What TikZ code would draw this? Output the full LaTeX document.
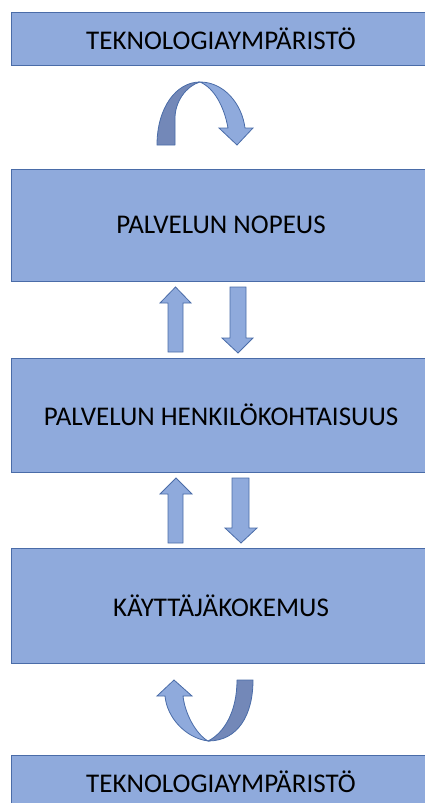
\documentclass[tikz,border=0pt]{standalone}
\usepackage{fontspec}
\setmainfont{Carlito}
\definecolor{boxfill}{HTML}{8FAADC}
\definecolor{boxline}{HTML}{4A6CA8}
\definecolor{darkrib}{HTML}{7388B8}
\tikzset{
  blk/.style={draw=boxline, line width=0.9pt, fill=boxfill, minimum width=420pt, inner sep=0pt, font=\fontsize{27}{32}\selectfont},
  arr/.style={draw=boxline, line width=0.8pt, fill=boxfill, line join=miter},
  arrdark/.style={draw=boxline, line width=0.8pt, fill=darkrib, line join=round}
}
\begin{document}
\begin{tikzpicture}[x=1pt,y=-1pt]
\useasboundingbox (0,0) rectangle (425,803);
\begin{scope}
\clip (0,0) rectangle (425,803);
\node[blk, minimum height=53pt] (b1) at (221,38.5) {TEKNOLOGIAYMPÄRISTÖ};
\node[blk, minimum height=112pt] (b2) at (221,225) {PALVELUN NOPEUS};
\node[blk, minimum height=114pt] (b3) at (221,415) {PALVELUN HENKILÖKOHTAISUUS};
\node[blk, minimum height=115pt] (b4) at (221,605.5) {KÄYTTÄJÄKOKEMUS};
\node[blk, minimum height=53pt] (b5) at (221,781.5) {TEKNOLOGIAYMPÄRISTÖ};
\end{scope}
% top curved arrow
\draw[arrdark] (157,145) .. controls (157,108) and (176,82) .. (200,82)
  .. controls (186,86) and (175,102) .. (175,118) -- (175,145) -- cycle;
\draw[arr] (200,82) .. controls (224,82) and (242,104) .. (245,128)
  -- (253,128) -- (237,145) -- (219,128) -- (228,128)
  .. controls (224,106) and (214,88) .. (200,82) -- cycle;
% arrows between b2 and b3
\draw[arr] (168,352) -- (168,303) -- (160,303) -- (175.5,287) -- (191,303) -- (183,303) -- (183,352) -- cycle;
\draw[arr] (230,287) -- (246,287) -- (246,338) -- (253,338) -- (238,353) -- (222,338) -- (230,338) -- cycle;
% arrows between b3 and b4
\draw[arr] (168,543) -- (168,494) -- (160,494) -- (176,478) -- (192,494) -- (183,494) -- (183,543) -- cycle;
\draw[arr] (232,478) -- (249,478) -- (249,528) -- (257,528) -- (241,543) -- (225,528) -- (232,528) -- cycle;
% bottom curved arrow
\draw[arrdark] (237,680) -- (253,680) .. controls (253,715) and (238,741) .. (208,741)
  .. controls (224,733) and (237,712) .. (237,680) -- cycle;
\draw[arr] (208,741) .. controls (186,738) and (167,718) .. (165,696)
  -- (157,696) -- (174,680) -- (192,696) -- (183,696)
  .. controls (185,714) and (196,734) .. (208,741) -- cycle;
\end{tikzpicture}
\end{document}
